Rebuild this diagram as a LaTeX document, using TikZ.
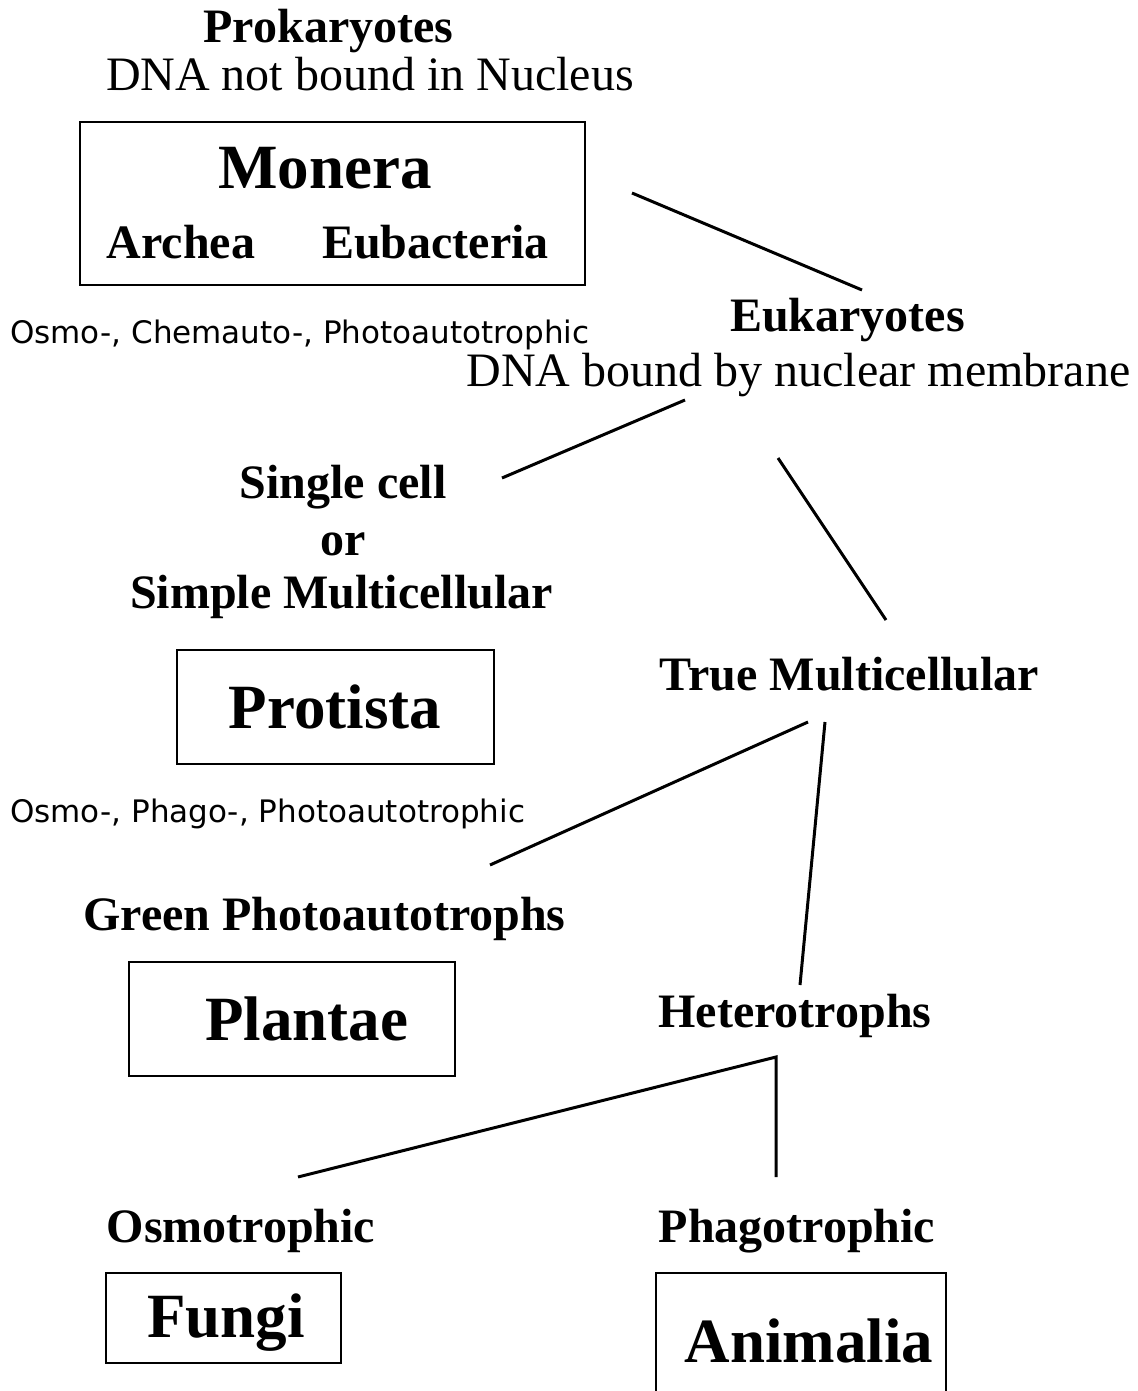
\documentclass[tikz,border=0pt]{standalone}
\usepackage{fontspec}
\setmainfont{Liberation Serif}
\newfontfamily\sansf{DejaVu Sans}
\begin{document}
\begin{tikzpicture}[x=1pt,y=-1pt,
  lab/.style={font=\fontsize{48}{56}\selectfont\bfseries, anchor=base, inner sep=0pt},
  reg/.style={font=\fontsize{48}{56}\selectfont, anchor=base, inner sep=0pt},
  king/.style={font=\fontsize{63}{70}\selectfont\bfseries, anchor=base, inner sep=0pt},
  note/.style={font=\sansf\fontsize{31}{36}\selectfont, anchor=base west, inner sep=0pt},
  conn/.style={line width=3pt},
  box/.style={draw, line width=2.5pt, inner sep=0pt}]
\useasboundingbox (0,0) rectangle (1137,1391);

% boxes
\node[box, minimum width=505pt, minimum height=163pt] (moneraBox) at (332.5,203.5) {};
\node[box, minimum width=317pt, minimum height=114pt] (protistaBox) at (335.5,707) {};
\node[box, minimum width=326pt, minimum height=114pt] (plantaeBox) at (292,1019) {};
\node[box, minimum width=235pt, minimum height=90pt] (fungiBox) at (223.5,1318) {};
\coordinate (anA) at (656,1395);
\coordinate (anB) at (656,1273);
\coordinate (anC) at (946,1273);
\coordinate (anD) at (946,1395);
\draw[line width=2.5pt] (anA) -- (anB) -- (anC) -- (anD);

% texts
\node[lab] (prok) at (328.5,43) {Prokaryotes};
\node[reg] (prokdna) at (370,91) {DNA not bound in Nucleus};
\node[king] (monera) at (325,189) {Monera};
\node[lab] (archea) at (181,258) {Archea};
\node[lab] (eubac) at (435.5,258) {Eubacteria};
\node[note] (moneraNote) at (10,343) {Osmo-, Chemauto-, Photoautotrophic};
\node[lab] (euk) at (847.5,331) {Eukaryotes};
\node[reg] (eukdna) at (798.5,386) {DNA bound by nuclear membrane};
\node[lab] (single) at (343,498) {Single cell};
\node[lab] (orr) at (343,555) {or};
\node[lab] (simple) at (341.5,608) {Simple Multicellular};
\node[king] (protista) at (335,728) {Protista};
\node[note] (protNote) at (10,822) {Osmo-, Phago-, Photoautotrophic};
\node[lab] (truem) at (849.5,690) {True Multicellular};
\node[lab] (green) at (324.5,930) {Green Photoautotrophs};
\node[king] (plantae) at (306.5,1040) {Plantae};
\node[lab] (hetero) at (795,1027) {Heterotrophs};
\node[lab] (osmo) at (241,1242) {Osmotrophic};
\node[lab] (phago) at (797,1242) {Phagotrophic};
\node[king] (fungi) at (226,1337) {Fungi};
\node[king] (animalia) at (809,1362) {Animalia};

% connectors
\coordinate (c1a) at (632,193);
\coordinate (c1b) at (862,290);
\coordinate (c2a) at (685,400);
\coordinate (c2b) at (502,478);
\coordinate (c3a) at (778,458);
\coordinate (c3b) at (886,620);
\coordinate (c4a) at (808,722);
\coordinate (c4b) at (490,865);
\coordinate (c5a) at (825,722);
\coordinate (c5b) at (800,985);
\coordinate (c6a) at (298,1177);
\coordinate (c6b) at (776,1057);
\coordinate (c6c) at (776,1177);
\draw[conn] (c1a) -- (c1b);
\draw[conn] (c2a) -- (c2b);
\draw[conn] (c3a) -- (c3b);
\draw[conn] (c4a) -- (c4b);
\draw[conn] (c5a) -- (c5b);
\draw[conn] (c6a) -- (c6b) -- (c6c);
\end{tikzpicture}
\end{document}
